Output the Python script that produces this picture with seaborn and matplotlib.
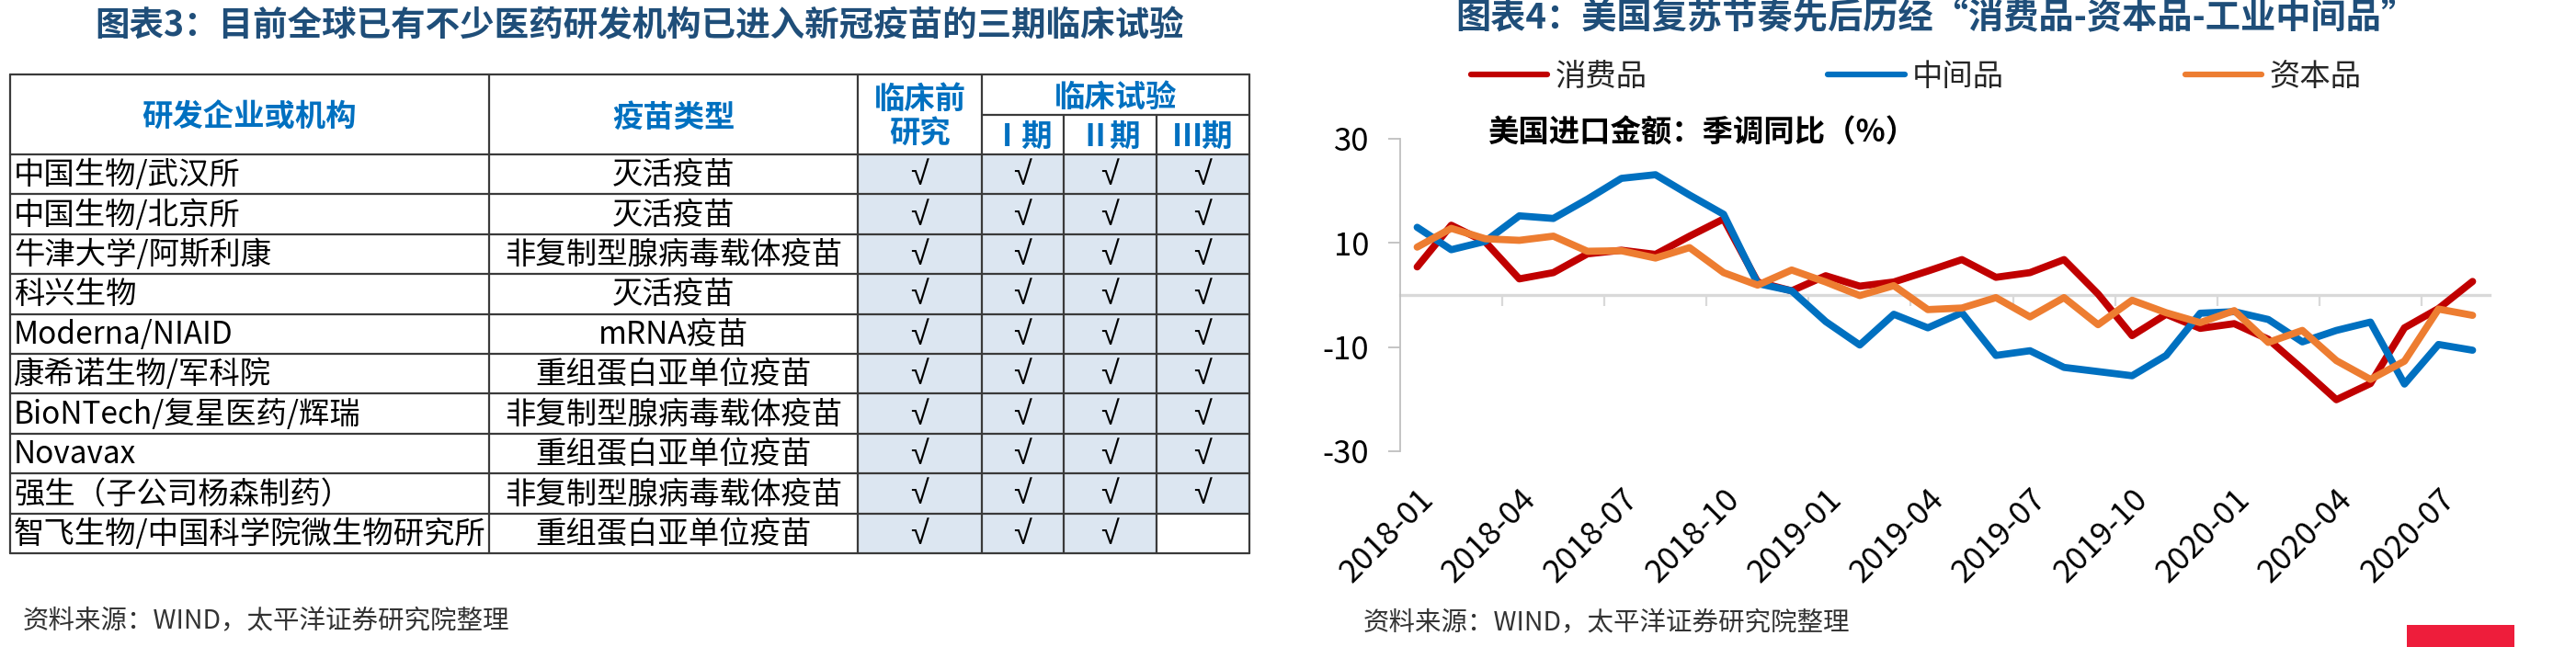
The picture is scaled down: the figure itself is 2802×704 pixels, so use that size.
import numpy as np
import pandas as pd
import matplotlib
matplotlib.use("Agg")
import matplotlib.pyplot as plt
import seaborn as sns
from matplotlib.patches import Rectangle

sns.set_theme(style="white")
plt.rcParams['font.family'] = ['Noto Sans CJK SC', 'DejaVu Sans']
plt.rcParams['axes.unicode_minus'] = False

# ---- 图表3 表格内容 ----
orgs = ['中国生物/武汉所', '中国生物/北京所', '牛津大学/阿斯利康', '科兴生物', 'Moderna/NIAID',
        '康希诺生物/军科院', 'BioNTech/复星医药/辉瑞', 'Novavax', '强生（子公司杨森制药）',
        '智飞生物/中国科学院微生物研究所']
vaccine_types = ['灭活疫苗', '灭活疫苗', '非复制型腺病毒载体疫苗', '灭活疫苗', 'mRNA疫苗',
                 '重组蛋白亚单位疫苗', '非复制型腺病毒载体疫苗', '重组蛋白亚单位疫苗',
                 '非复制型腺病毒载体疫苗', '重组蛋白亚单位疫苗']
stage_labels = ['临床前\n研究', 'Ⅰ期', 'Ⅱ期', 'Ⅲ期']
stage_done = [[1, 1, 1, 1]] * 9 + [[1, 1, 1, 0]]

# ---- 图表4 数据：美国进口金额 季调同比(%) ----
months = pd.period_range('2018-01', periods=32, freq='M').strftime('%Y-%m').tolist()
consumer = [5.4, 13.4, 10.2, 3.1, 4.3, 7.9, 8.6, 7.8, 11.3, 14.6, 2.5, 0.8, 3.7, 1.7, 2.5, 4.6,
            6.8, 3.4, 4.3, 6.8, 0.2, -7.8, -3.7, -6.4, -5.5, -8.5, -14.2, -20.1, -17.0, -6.3, -2.6, 2.6]
intermediate = [13.0, 8.7, 10.3, 15.2, 14.7, 18.4, 22.4, 23.1, 19.2, 15.5, 2.2, 0.8, -5.1, -9.6, -3.7, -6.3,
                -3.4, -11.6, -10.7, -13.9, -14.7, -15.5, -11.6, -3.5, -3.2, -4.7, -9.0, -6.8, -5.2, -17.1, -9.5, -10.6]
capital = [9.2, 12.8, 10.8, 10.5, 11.3, 8.4, 8.5, 7.1, 9.1, 4.3, 1.9, 4.8, 2.5, -0.1, 1.8, -2.8,
           -2.5, -0.5, -4.2, -0.5, -5.7, -1.0, -3.4, -5.3, -3.0, -9.1, -6.8, -12.6, -16.2, -12.7, -2.7, -3.9]
series_names = ['消费品', '中间品', '资本品']
colors = {'消费品': '#C00000', '中间品': '#0070C0', '资本品': '#ED7D31'}

df = pd.DataFrame({
    'idx': np.tile(np.arange(len(months)), 3),
    '同比': consumer + intermediate + capital,
    '类别': np.repeat(series_names, len(months)),
})

W, H = 2802, 704
fig = plt.figure(figsize=(W / 100, H / 100), dpi=100)

# 覆盖层：像素坐标，用于表格与标题
tax = fig.add_axes([0, 0, 1, 1])
tax.set_xlim(0, W)
tax.set_ylim(H, 0)
tax.axis('off')
tax.patch.set_visible(False)

title_color = '#1F4E79'
head_color = '#0070C0'
line_kw = dict(color='#3A3A3A', lw=1.6)

tax.text(696, 28, '图表3：目前全球已有不少医药研发机构已进入新冠疫苗的三期临床试验',
         ha='center', va='center', fontsize=27, fontweight='bold', color=title_color)

# 表格
cols = [11, 532, 933, 1068, 1157, 1258, 1359]
top, head_bot, sub_y = 81, 168, 125
row_h = 43.4
bottom = head_bot + row_h * len(orgs)

for r, done in enumerate(stage_done):
    y0 = head_bot + r * row_h
    for c, d in enumerate(done):
        if d:
            tax.add_patch(Rectangle((cols[2 + c], y0), cols[3 + c] - cols[2 + c], row_h,
                                    facecolor='#DCE6F1', edgecolor='none'))

for k in range(len(orgs) + 1):
    y = head_bot + k * row_h
    tax.plot([cols[0], cols[-1]], [y, y], **line_kw)
tax.plot([cols[0], cols[-1]], [top, top], **line_kw)
tax.plot([cols[3], cols[-1]], [sub_y, sub_y], **line_kw)
for x in [cols[0], cols[1], cols[2], cols[3], cols[-1]]:
    tax.plot([x, x], [top, bottom], **line_kw)
for x in [cols[4], cols[5]]:
    tax.plot([x, x], [sub_y, bottom], **line_kw)

hk = dict(fontsize=24, fontweight='bold', color=head_color, ha='center', va='center')
tax.text((cols[0] + cols[1]) / 2, 128, '研发企业或机构', **hk)
tax.text((cols[1] + cols[2]) / 2, 128, '疫苗类型', **hk)
tax.text((cols[2] + cols[3]) / 2, 127, stage_labels[0], linespacing=1.15, **hk)
tax.text((cols[3] + cols[-1]) / 2, 106, '临床试验', **hk)
for c in range(1, 4):
    tax.text((cols[2 + c] + cols[3 + c]) / 2, 149, stage_labels[c], **hk)

for r, (org, vt, done) in enumerate(zip(orgs, vaccine_types, stage_done)):
    yc = head_bot + r * row_h + row_h / 2 + 1
    tax.text(cols[0] + 4, yc, org, fontsize=24, ha='left', va='center', color='black')
    tax.text((cols[1] + cols[2]) / 2, yc, vt, fontsize=24, ha='center', va='center', color='black')
    for c, d in enumerate(done):
        if d:
            tax.text((cols[2 + c] + cols[3 + c]) / 2, yc + 1, '√', fontsize=26,
                     family=['Liberation Sans', 'DejaVu Sans'],
                     ha='center', va='center', color='black')

src_kw = dict(fontsize=20.5, color='#333333', ha='left', va='center')
tax.text(25, 676, '资料来源：WIND，太平洋证券研究院整理', **src_kw)
tax.text(1483, 678, '资料来源：WIND，太平洋证券研究院整理', **src_kw)

tax.text(1583, 20, '图表4：美国复苏节奏先后历经“消费品-资本品-工业中间品”',
         ha='left', va='center', fontsize=27.5, fontweight='bold', color=title_color)
tax.text(1618, 145, '美国进口金额：季调同比（%）', ha='left', va='center',
         fontsize=24, fontweight='bold', color='black')
tax.add_patch(Rectangle((2618, 680), 117, 24, facecolor='#EE1D3B', edgecolor='none'))

# 折线图
left, right, ptop, pbot = 1523, 2708, 151, 491
ax = fig.add_axes([left / W, 1 - pbot / H, (right - left) / W, (pbot - ptop) / H])
ax.patch.set_visible(False)
sns.lineplot(data=df, x='idx', y='同比', hue='类别', hue_order=series_names, palette=colors,
             linewidth=5.6, solid_joinstyle='round', solid_capstyle='round', ax=ax, zorder=3)

ax.set_xlim(-0.5, len(months) - 0.5)
ax.set_ylim(-30, 30)
ax.set_yticks([-30, -10, 10, 30])
ax.set_xticks(np.arange(0, len(months), 3))
ax.set_xticklabels(months[::3], rotation=45, ha='right', rotation_mode='anchor')
ax.set_xlabel('')
ax.set_ylabel('')
for s in ['top', 'right', 'bottom']:
    ax.spines[s].set_visible(False)
ax.spines['left'].set_color('#BFBFBF')
ax.spines['left'].set_linewidth(1.3)
ax.tick_params(axis='y', left=True, direction='out', length=9.4, width=1.3, color='#BFBFBF',
               pad=15, labelsize=25, labelcolor='black')
ax.tick_params(axis='x', bottom=True, length=0, pad=25, labelsize=25, labelcolor='black')

zero = ax.secondary_xaxis(0.5)
zero.set_alignment('bottom')
zero.set_xticks(np.arange(2.5, len(months) - 1, 3))
zero.tick_params(axis='x', direction='out', length=8.6, width=1.6, color='#D9D9D9',
                 labelbottom=False, labeltop=False, bottom=True, top=False)
zero.spines['bottom'].set_color('#D9D9D9')
zero.spines['bottom'].set_linewidth(2.4)
zero.set_zorder(0)

sns.move_legend(ax, 'center left', bbox_to_anchor=(1600 / W, 1 - 83 / H),
                bbox_transform=fig.transFigure, ncol=3, frameon=False, title=None,
                fontsize=24, handlelength=2.5, handletextpad=0.25, columnspacing=5.9,
                borderaxespad=0, borderpad=0)
for h in ax.get_legend().get_lines():
    h.set_linewidth(4.5)

fig.savefig('out.png', dpi=100)
